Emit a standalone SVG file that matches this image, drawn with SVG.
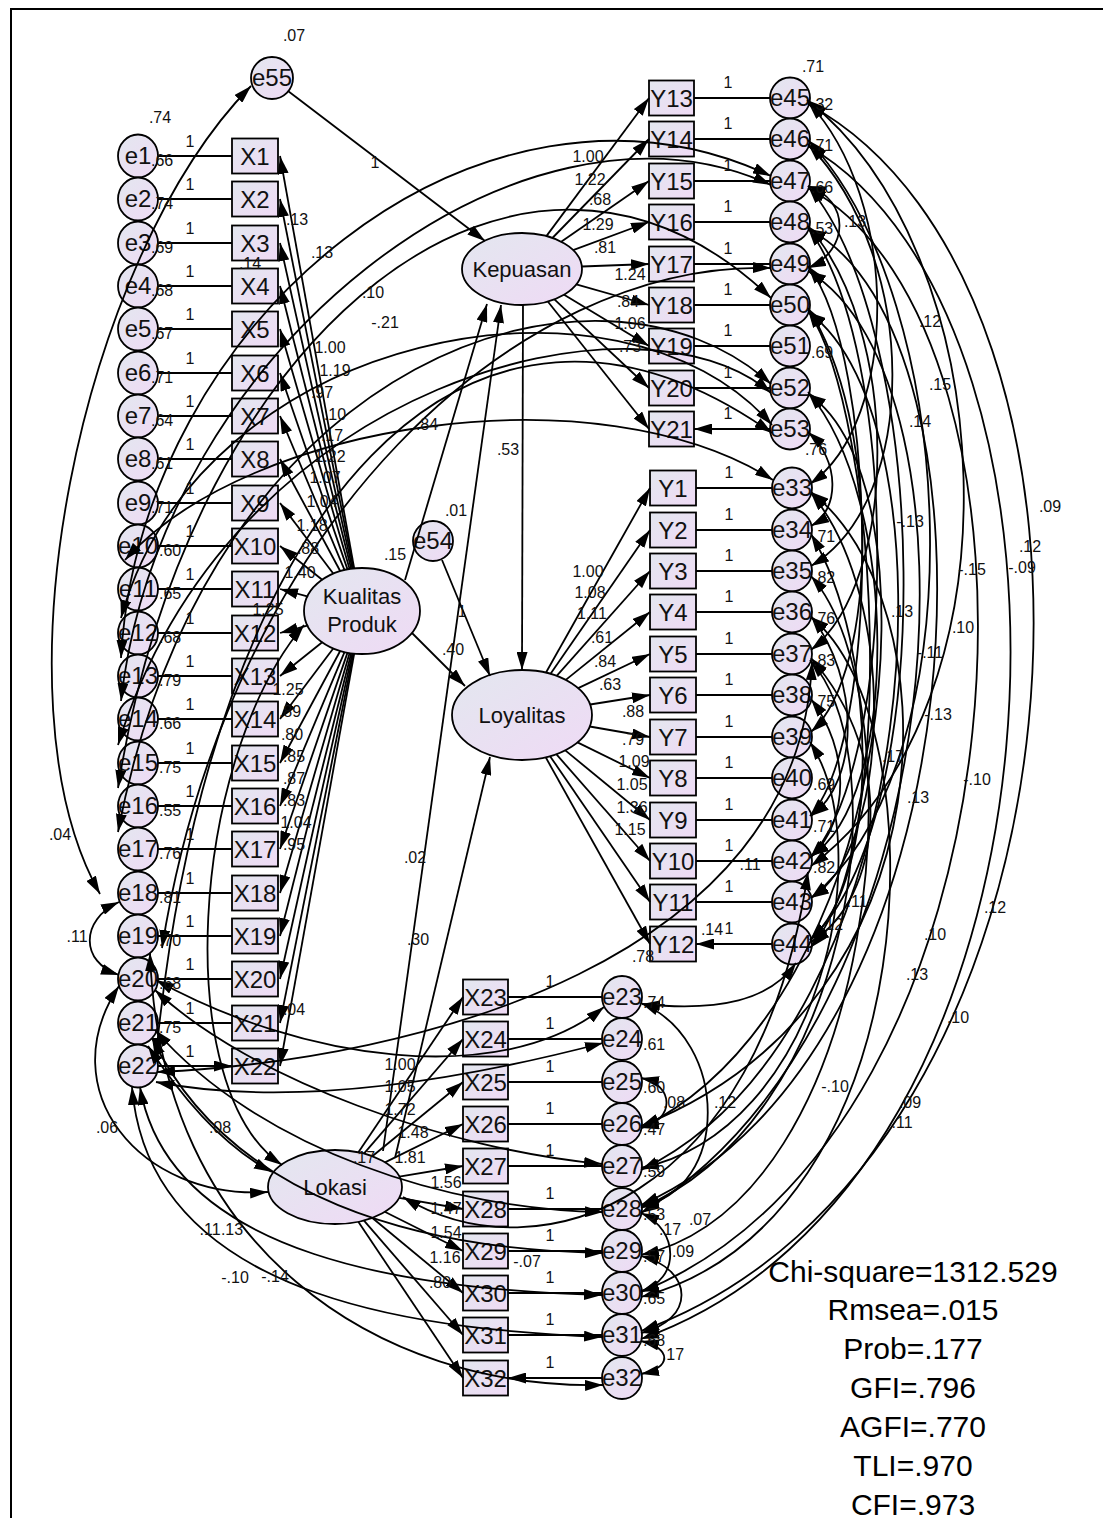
<svg xmlns="http://www.w3.org/2000/svg" width="1103" height="1518" viewBox="0 0 1103 1518">
<defs>
<linearGradient id="g" x1="0" y1="0" x2="1" y2="1"><stop offset="0" stop-color="#e3e7ef"/><stop offset="1" stop-color="#efdaf5"/></linearGradient>
<marker id="a" viewBox="0 0 18 11" refX="18" refY="5.5" markerWidth="18" markerHeight="11" markerUnits="userSpaceOnUse" orient="auto-start-reverse"><path d="M0,0L18,5.5L0,11z" fill="#000"/></marker>
<style>
.n{fill:url(#g);stroke:#000;stroke-width:1.8}
.t{font-family:"Liberation Sans",Arial,sans-serif;font-size:24px;text-anchor:middle;fill:#111}
.lt{font-size:22px}
.c{fill:none;stroke:#000;stroke-width:1.8}
.p{marker-end:url(#a)}
.v{marker-start:url(#a);marker-end:url(#a)}
.l{font-family:"Liberation Sans",Arial,sans-serif;font-size:16px;text-anchor:middle;fill:#111}
.vs{text-anchor:start}
.s{font-family:"Liberation Sans",Arial,sans-serif;font-size:30px;text-anchor:middle;fill:#000}
</style>
</defs>
<rect x="11" y="9" width="1120" height="1530" fill="#fff" stroke="#000" stroke-width="2"/>
<g id="nodes">
<g id="e55"><ellipse class="n" cx="272" cy="78" rx="21" ry="21"/><text class="t" x="272" y="86">e55</text></g>
<g id="e54"><ellipse class="n" cx="433" cy="541" rx="20" ry="20"/><text class="t" x="433" y="549">e54</text></g>
<g id="Kepuasan"><ellipse class="n" cx="522" cy="269" rx="60" ry="36"/><text class="t lt" x="522" y="277">Kepuasan</text></g>
<g id="Loyalitas"><ellipse class="n" cx="522" cy="715" rx="70" ry="45"/><text class="t lt" x="522" y="723">Loyalitas</text></g>
<g id="KualitasProduk"><ellipse class="n" cx="362" cy="611" rx="58" ry="43"/><text class="t lt" x="362" y="604">Kualitas</text><text class="t lt" x="362" y="632">Produk</text></g>
<g id="Lokasi"><ellipse class="n" cx="335" cy="1187" rx="67" ry="37"/><text class="t lt" x="335" y="1195">Lokasi</text></g>
<g id="e1"><ellipse class="n" cx="138" cy="156" rx="20" ry="21.5"/><text class="t" x="138" y="164">e1</text></g>
<g id="e2"><ellipse class="n" cx="138" cy="199" rx="20" ry="21.5"/><text class="t" x="138" y="207">e2</text></g>
<g id="e3"><ellipse class="n" cx="138" cy="243" rx="20" ry="21.5"/><text class="t" x="138" y="251">e3</text></g>
<g id="e4"><ellipse class="n" cx="138" cy="286" rx="20" ry="21.5"/><text class="t" x="138" y="294">e4</text></g>
<g id="e5"><ellipse class="n" cx="138" cy="329" rx="20" ry="21.5"/><text class="t" x="138" y="337">e5</text></g>
<g id="e6"><ellipse class="n" cx="138" cy="373" rx="20" ry="21.5"/><text class="t" x="138" y="381">e6</text></g>
<g id="e7"><ellipse class="n" cx="138" cy="416" rx="20" ry="21.5"/><text class="t" x="138" y="424">e7</text></g>
<g id="e8"><ellipse class="n" cx="138" cy="459" rx="20" ry="21.5"/><text class="t" x="138" y="467">e8</text></g>
<g id="e9"><ellipse class="n" cx="138" cy="503" rx="20" ry="21.5"/><text class="t" x="138" y="511">e9</text></g>
<g id="e10"><ellipse class="n" cx="138" cy="546" rx="20" ry="21.5"/><text class="t" x="138" y="554">e10</text></g>
<g id="e11"><ellipse class="n" cx="138" cy="589" rx="20" ry="21.5"/><text class="t" x="138" y="597">e11</text></g>
<g id="e12"><ellipse class="n" cx="138" cy="633" rx="20" ry="21.5"/><text class="t" x="138" y="641">e12</text></g>
<g id="e13"><ellipse class="n" cx="138" cy="676" rx="20" ry="21.5"/><text class="t" x="138" y="684">e13</text></g>
<g id="e14"><ellipse class="n" cx="138" cy="719" rx="20" ry="21.5"/><text class="t" x="138" y="727">e14</text></g>
<g id="e15"><ellipse class="n" cx="138" cy="763" rx="20" ry="21.5"/><text class="t" x="138" y="771">e15</text></g>
<g id="e16"><ellipse class="n" cx="138" cy="806" rx="20" ry="21.5"/><text class="t" x="138" y="814">e16</text></g>
<g id="e17"><ellipse class="n" cx="138" cy="849" rx="20" ry="21.5"/><text class="t" x="138" y="857">e17</text></g>
<g id="e18"><ellipse class="n" cx="138" cy="893" rx="20" ry="21.5"/><text class="t" x="138" y="901">e18</text></g>
<g id="e19"><ellipse class="n" cx="138" cy="936" rx="20" ry="21.5"/><text class="t" x="138" y="944">e19</text></g>
<g id="e20"><ellipse class="n" cx="138" cy="979" rx="20" ry="21.5"/><text class="t" x="138" y="987">e20</text></g>
<g id="e21"><ellipse class="n" cx="138" cy="1023" rx="20" ry="21.5"/><text class="t" x="138" y="1031">e21</text></g>
<g id="e22"><ellipse class="n" cx="138" cy="1066" rx="20" ry="21.5"/><text class="t" x="138" y="1074">e22</text></g>
<g id="X1"><rect class="n" x="232" y="138.5" width="46" height="35"/><text class="t" x="255" y="164.5">X1</text></g>
<g id="X2"><rect class="n" x="232" y="181.5" width="46" height="35"/><text class="t" x="255" y="207.5">X2</text></g>
<g id="X3"><rect class="n" x="232" y="225.5" width="46" height="35"/><text class="t" x="255" y="251.5">X3</text></g>
<g id="X4"><rect class="n" x="232" y="268.5" width="46" height="35"/><text class="t" x="255" y="294.5">X4</text></g>
<g id="X5"><rect class="n" x="232" y="311.5" width="46" height="35"/><text class="t" x="255" y="337.5">X5</text></g>
<g id="X6"><rect class="n" x="232" y="355.5" width="46" height="35"/><text class="t" x="255" y="381.5">X6</text></g>
<g id="X7"><rect class="n" x="232" y="398.5" width="46" height="35"/><text class="t" x="255" y="424.5">X7</text></g>
<g id="X8"><rect class="n" x="232" y="441.5" width="46" height="35"/><text class="t" x="255" y="467.5">X8</text></g>
<g id="X9"><rect class="n" x="232" y="485.5" width="46" height="35"/><text class="t" x="255" y="511.5">X9</text></g>
<g id="X10"><rect class="n" x="232" y="528.5" width="46" height="35"/><text class="t" x="255" y="554.5">X10</text></g>
<g id="X11"><rect class="n" x="232" y="571.5" width="46" height="35"/><text class="t" x="255" y="597.5">X11</text></g>
<g id="X12"><rect class="n" x="232" y="615.5" width="46" height="35"/><text class="t" x="255" y="641.5">X12</text></g>
<g id="X13"><rect class="n" x="232" y="658.5" width="46" height="35"/><text class="t" x="255" y="684.5">X13</text></g>
<g id="X14"><rect class="n" x="232" y="701.5" width="46" height="35"/><text class="t" x="255" y="727.5">X14</text></g>
<g id="X15"><rect class="n" x="232" y="745.5" width="46" height="35"/><text class="t" x="255" y="771.5">X15</text></g>
<g id="X16"><rect class="n" x="232" y="788.5" width="46" height="35"/><text class="t" x="255" y="814.5">X16</text></g>
<g id="X17"><rect class="n" x="232" y="831.5" width="46" height="35"/><text class="t" x="255" y="857.5">X17</text></g>
<g id="X18"><rect class="n" x="232" y="875.5" width="46" height="35"/><text class="t" x="255" y="901.5">X18</text></g>
<g id="X19"><rect class="n" x="232" y="918.5" width="46" height="35"/><text class="t" x="255" y="944.5">X19</text></g>
<g id="X20"><rect class="n" x="232" y="961.5" width="46" height="35"/><text class="t" x="255" y="987.5">X20</text></g>
<g id="X21"><rect class="n" x="232" y="1005.5" width="46" height="35"/><text class="t" x="255" y="1031.5">X21</text></g>
<g id="X22"><rect class="n" x="232" y="1048.5" width="46" height="35"/><text class="t" x="255" y="1074.5">X22</text></g>
<g id="Y13"><rect class="n" x="649" y="80.5" width="45" height="35"/><text class="t" x="671.5" y="106.5">Y13</text></g>
<g id="Y14"><rect class="n" x="649" y="121.5" width="45" height="35"/><text class="t" x="671.5" y="147.5">Y14</text></g>
<g id="Y15"><rect class="n" x="649" y="163.5" width="45" height="35"/><text class="t" x="671.5" y="189.5">Y15</text></g>
<g id="Y16"><rect class="n" x="649" y="204.5" width="45" height="35"/><text class="t" x="671.5" y="230.5">Y16</text></g>
<g id="Y17"><rect class="n" x="649" y="246.5" width="45" height="35"/><text class="t" x="671.5" y="272.5">Y17</text></g>
<g id="Y18"><rect class="n" x="649" y="287.5" width="45" height="35"/><text class="t" x="671.5" y="313.5">Y18</text></g>
<g id="Y19"><rect class="n" x="649" y="328.5" width="45" height="35"/><text class="t" x="671.5" y="354.5">Y19</text></g>
<g id="Y20"><rect class="n" x="649" y="370.5" width="45" height="35"/><text class="t" x="671.5" y="396.5">Y20</text></g>
<g id="Y21"><rect class="n" x="649" y="411.5" width="45" height="35"/><text class="t" x="671.5" y="437.5">Y21</text></g>
<g id="e45"><ellipse class="n" cx="790" cy="98" rx="20" ry="20.5"/><text class="t" x="790" y="106">e45</text></g>
<g id="e46"><ellipse class="n" cx="790" cy="139" rx="20" ry="20.5"/><text class="t" x="790" y="147">e46</text></g>
<g id="e47"><ellipse class="n" cx="790" cy="181" rx="20" ry="20.5"/><text class="t" x="790" y="189">e47</text></g>
<g id="e48"><ellipse class="n" cx="790" cy="222" rx="20" ry="20.5"/><text class="t" x="790" y="230">e48</text></g>
<g id="e49"><ellipse class="n" cx="790" cy="264" rx="20" ry="20.5"/><text class="t" x="790" y="272">e49</text></g>
<g id="e50"><ellipse class="n" cx="790" cy="305" rx="20" ry="20.5"/><text class="t" x="790" y="313">e50</text></g>
<g id="e51"><ellipse class="n" cx="790" cy="346" rx="20" ry="20.5"/><text class="t" x="790" y="354">e51</text></g>
<g id="e52"><ellipse class="n" cx="790" cy="388" rx="20" ry="20.5"/><text class="t" x="790" y="396">e52</text></g>
<g id="e53"><ellipse class="n" cx="790" cy="429" rx="20" ry="20.5"/><text class="t" x="790" y="437">e53</text></g>
<g id="Y1"><rect class="n" x="650" y="470.5" width="46" height="35"/><text class="t" x="673" y="496.5">Y1</text></g>
<g id="Y2"><rect class="n" x="650" y="512.5" width="46" height="35"/><text class="t" x="673" y="538.5">Y2</text></g>
<g id="Y3"><rect class="n" x="650" y="553.5" width="46" height="35"/><text class="t" x="673" y="579.5">Y3</text></g>
<g id="Y4"><rect class="n" x="650" y="594.5" width="46" height="35"/><text class="t" x="673" y="620.5">Y4</text></g>
<g id="Y5"><rect class="n" x="650" y="636.5" width="46" height="35"/><text class="t" x="673" y="662.5">Y5</text></g>
<g id="Y6"><rect class="n" x="650" y="677.5" width="46" height="35"/><text class="t" x="673" y="703.5">Y6</text></g>
<g id="Y7"><rect class="n" x="650" y="719.5" width="46" height="35"/><text class="t" x="673" y="745.5">Y7</text></g>
<g id="Y8"><rect class="n" x="650" y="760.5" width="46" height="35"/><text class="t" x="673" y="786.5">Y8</text></g>
<g id="Y9"><rect class="n" x="650" y="802.5" width="46" height="35"/><text class="t" x="673" y="828.5">Y9</text></g>
<g id="Y10"><rect class="n" x="650" y="843.5" width="46" height="35"/><text class="t" x="673" y="869.5">Y10</text></g>
<g id="Y11"><rect class="n" x="650" y="884.5" width="46" height="35"/><text class="t" x="673" y="910.5">Y11</text></g>
<g id="Y12"><rect class="n" x="650" y="926.5" width="46" height="35"/><text class="t" x="673" y="952.5">Y12</text></g>
<g id="e33"><ellipse class="n" cx="792" cy="488" rx="20" ry="20.5"/><text class="t" x="792" y="496">e33</text></g>
<g id="e34"><ellipse class="n" cx="792" cy="530" rx="20" ry="20.5"/><text class="t" x="792" y="538">e34</text></g>
<g id="e35"><ellipse class="n" cx="792" cy="571" rx="20" ry="20.5"/><text class="t" x="792" y="579">e35</text></g>
<g id="e36"><ellipse class="n" cx="792" cy="612" rx="20" ry="20.5"/><text class="t" x="792" y="620">e36</text></g>
<g id="e37"><ellipse class="n" cx="792" cy="654" rx="20" ry="20.5"/><text class="t" x="792" y="662">e37</text></g>
<g id="e38"><ellipse class="n" cx="792" cy="695" rx="20" ry="20.5"/><text class="t" x="792" y="703">e38</text></g>
<g id="e39"><ellipse class="n" cx="792" cy="737" rx="20" ry="20.5"/><text class="t" x="792" y="745">e39</text></g>
<g id="e40"><ellipse class="n" cx="792" cy="778" rx="20" ry="20.5"/><text class="t" x="792" y="786">e40</text></g>
<g id="e41"><ellipse class="n" cx="792" cy="820" rx="20" ry="20.5"/><text class="t" x="792" y="828">e41</text></g>
<g id="e42"><ellipse class="n" cx="792" cy="861" rx="20" ry="20.5"/><text class="t" x="792" y="869">e42</text></g>
<g id="e43"><ellipse class="n" cx="792" cy="902" rx="20" ry="20.5"/><text class="t" x="792" y="910">e43</text></g>
<g id="e44"><ellipse class="n" cx="792" cy="944" rx="20" ry="20.5"/><text class="t" x="792" y="952">e44</text></g>
<g id="X23"><rect class="n" x="463" y="979.5" width="45" height="35"/><text class="t" x="485.5" y="1005.5">X23</text></g>
<g id="X24"><rect class="n" x="463" y="1021.5" width="45" height="35"/><text class="t" x="485.5" y="1047.5">X24</text></g>
<g id="X25"><rect class="n" x="463" y="1064.5" width="45" height="35"/><text class="t" x="485.5" y="1090.5">X25</text></g>
<g id="X26"><rect class="n" x="463" y="1106.5" width="45" height="35"/><text class="t" x="485.5" y="1132.5">X26</text></g>
<g id="X27"><rect class="n" x="463" y="1148.5" width="45" height="35"/><text class="t" x="485.5" y="1174.5">X27</text></g>
<g id="X28"><rect class="n" x="463" y="1191.5" width="45" height="35"/><text class="t" x="485.5" y="1217.5">X28</text></g>
<g id="X29"><rect class="n" x="463" y="1233.5" width="45" height="35"/><text class="t" x="485.5" y="1259.5">X29</text></g>
<g id="X30"><rect class="n" x="463" y="1275.5" width="45" height="35"/><text class="t" x="485.5" y="1301.5">X30</text></g>
<g id="X31"><rect class="n" x="463" y="1317.5" width="45" height="35"/><text class="t" x="485.5" y="1343.5">X31</text></g>
<g id="X32"><rect class="n" x="463" y="1360.5" width="45" height="35"/><text class="t" x="485.5" y="1386.5">X32</text></g>
<g id="e23"><ellipse class="n" cx="622" cy="997" rx="20" ry="21"/><text class="t" x="622" y="1005">e23</text></g>
<g id="e24"><ellipse class="n" cx="622" cy="1039" rx="20" ry="21"/><text class="t" x="622" y="1047">e24</text></g>
<g id="e25"><ellipse class="n" cx="622" cy="1082" rx="20" ry="21"/><text class="t" x="622" y="1090">e25</text></g>
<g id="e26"><ellipse class="n" cx="622" cy="1124" rx="20" ry="21"/><text class="t" x="622" y="1132">e26</text></g>
<g id="e27"><ellipse class="n" cx="622" cy="1166" rx="20" ry="21"/><text class="t" x="622" y="1174">e27</text></g>
<g id="e28"><ellipse class="n" cx="622" cy="1209" rx="20" ry="21"/><text class="t" x="622" y="1217">e28</text></g>
<g id="e29"><ellipse class="n" cx="622" cy="1251" rx="20" ry="21"/><text class="t" x="622" y="1259">e29</text></g>
<g id="e30"><ellipse class="n" cx="622" cy="1293" rx="20" ry="21"/><text class="t" x="622" y="1301">e30</text></g>
<g id="e31"><ellipse class="n" cx="622" cy="1335" rx="20" ry="21"/><text class="t" x="622" y="1343">e31</text></g>
<g id="e32"><ellipse class="n" cx="622" cy="1378" rx="20" ry="21"/><text class="t" x="622" y="1386">e32</text></g>
</g>
<g id="connectors" class="c">
<path class="p" d="M158,156H232M158,199H232M158,243H232M158,286H232M158,329H232M158,373H232M158,416H232M158,459H232M158,503H232M158,546H232M158,589H232M158,633H232M158,676H232M158,719H232M158,763H232M158,806H232M158,849H232M158,893H232M158,936H232M158,979H232M158,1023H232M158,1066H232"/>
<path class="p" d="M354.2,568.4L280,156"/><path class="p" d="M353.4,568.5L280,199"/><path class="p" d="M352.4,568.6L280,243"/><path class="p" d="M351.2,568.8L280,286"/><path class="p" d="M349.6,569L280,329"/><path class="p" d="M347.5,569.4L280,373"/><path class="p" d="M344.6,570.1L280,416"/><path class="p" d="M340.3,571.2L280,459"/><path class="p" d="M333.4,573.8L280,503"/><path class="p" d="M322.5,580L280,546"/><path class="p" d="M308.2,596.7L280,589"/><path class="p" d="M308.2,625.3L280,633"/><path class="p" d="M322.5,642L280,676"/><path class="p" d="M333.4,648.2L280,719"/><path class="p" d="M340.3,650.8L280,763"/><path class="p" d="M344.6,651.9L280,806"/><path class="p" d="M347.5,652.6L280,849"/><path class="p" d="M349.6,653L280,893"/><path class="p" d="M351.2,653.2L280,936"/><path class="p" d="M352.4,653.4L280,979"/><path class="p" d="M353.4,653.5L280,1023"/><path class="p" d="M354.2,653.6L280,1066"/>
<path class="p" d="M546.4,236.1L649,98"/><path class="p" d="M552.4,238L649,139"/><path class="p" d="M561.2,241.8L649,181"/><path class="p" d="M573.1,250.2L649,222"/><path class="p" d="M581.9,266.5L649,264"/><path class="p" d="M576.3,284.4L649,305"/><path class="p" d="M564.1,294.7L649,346"/><path class="p" d="M554.4,299.3L649,388"/><path class="p" d="M547.8,301.5L649,429"/>
<path class="p" d="M770,98H694M770,139H694M770,181H694M770,222H694M770,264H694M770,305H694M770,346H694M770,388H694M770,429H694"/>
<path class="p" d="M545.9,672.7L650,488"/><path class="p" d="M550.4,673.9L650,530"/><path class="p" d="M556.7,675.9L650,571"/><path class="p" d="M565.8,679.9L650,612"/><path class="p" d="M578.2,688.1L650,654"/><path class="p" d="M590.1,704.5L650,695"/><path class="p" d="M589.7,726.5L650,737"/><path class="p" d="M577.5,742.4L650,778"/><path class="p" d="M565.3,750.4L650,820"/><path class="p" d="M556.3,754.2L650,861"/><path class="p" d="M550.1,756.2L650,902"/><path class="p" d="M545.7,757.3L650,944"/>
<path class="p" d="M772,488H696M772,530H696M772,571H696M772,612H696M772,654H696M772,695H696M772,737H696M772,778H696M772,820H696M772,861H696M772,902H696M772,944H696"/>
<path class="p" d="M358.4,1152.3L463,997"/><path class="p" d="M363.9,1153.6L463,1039"/><path class="p" d="M372.3,1156.3L463,1082"/><path class="p" d="M385,1162.4L463,1124"/><path class="p" d="M399.3,1176.6L463,1166"/><path class="p" d="M399.1,1197.8L463,1209"/><path class="p" d="M384.7,1211.8L463,1251"/><path class="p" d="M372.1,1217.8L463,1293"/><path class="p" d="M363.8,1220.4L463,1335"/><path class="p" d="M358.3,1221.7L463,1378"/>
<path class="p" d="M602,997H508M602,1039H508M602,1082H508M602,1124H508M602,1166H508M602,1209H508M602,1251H508M602,1293H508M602,1335H508M602,1378H508"/>
<path class="p" d="M288,91L485,241"/>
<path class="p" d="M405,580L487,304"/>
<path class="p" d="M383,1151L501,305"/>
<path class="p" d="M395,1158L490,757"/>
<path class="p" d="M412,633L465,686"/>
<path class="p" d="M523,305L522,670"/>
<path class="p" d="M442,560L490,676"/>
<path class="v" d="M251,86C80,260 -10,700 100,894"/>
<path class="v" d="M119,902C80,920 80,962 119,975"/>
<path class="v" d="M119,986C50,1090 140,1200 268,1192"/>
<path class="v" d="M148,1046C190,1110 230,1150 272,1172"/>
<path class="v" d="M156,1082C300,1110 480,1075 603,1043"/>
<path class="v" d="M155,990C250,1080 450,1150 602,1164"/>
<path class="v" d="M140,1087C170,1260 420,1290 602,1295"/>
<path class="v" d="M132,1087C150,1310 450,1330 602,1337"/>
<path class="v" d="M152,1038C230,1200 420,1250 603,1253"/>
<path class="v" d="M155,1030C260,1150 450,1210 603,1212"/>
<path class="v" d="M156,980C300,1060 500,1090 604,1007"/>
<path class="v" d="M150,953C160,1250 380,1390 603,1385"/>
<path class="v" d="M304,625C190,760 170,1090 282,1165"/>
<path class="v" d="M121,658C140,320 480,40 771,176"/>
<path class="v" d="M121,701C160,350 520,70 771,185"/>
<path class="v" d="M118,788C190,330 520,60 771,298"/>
<path class="v" d="M118,832C210,350 600,230 771,384"/>
<path class="v" d="M121,618C200,330 620,250 772,425"/>
<path class="v" d="M118,745C230,380 640,280 771,393"/>
<path class="v" d="M125,560C250,420 600,370 773,480"/>
<path class="v" d="M157,1072C420,1060 800,960 812,662"/>
<path class="v" d="M771,268C520,260 230,520 162,948"/>
<path class="v" d="M156,1056C210,500 470,220 772,433"/>
<path class="v" d="M808,104C1150,290 1110,1160 641,1331"/>
<path class="v" d="M808,146C1110,320 1090,1180 641,1339"/>
<path class="v" d="M808,188C1070,330 1040,1130 641,1292"/>
<path class="v" d="M808,229C1010,330 990,1050 641,1205"/>
<path class="v" d="M808,271C990,380 960,1020 641,1213"/>
<path class="v" d="M808,312C960,420 930,1030 641,1170"/>
<path class="v" d="M808,394C940,480 900,1000 641,1128"/>
<path class="v" d="M808,140C960,300 980,760 811,898"/>
<path class="v" d="M808,186C930,330 940,820 810,940"/>
<path class="v" d="M808,228C900,350 900,760 810,858"/>
<path class="v" d="M808,266C880,360 880,740 810,816"/>
<path class="v" d="M807,100C1000,250 1030,700 811,866"/>
<path class="v" d="M808,310C880,420 900,850 810,948"/>
<path class="v" d="M808,186C850,200 850,250 808,268"/>
<path class="v" d="M808,102C900,200 900,420 810,484"/>
<path class="v" d="M808,144C920,260 920,500 811,566"/>
<path class="v" d="M808,226C900,330 900,580 811,650"/>
<path class="v" d="M808,308C880,420 880,670 811,732"/>
<path class="v" d="M808,392C900,500 900,800 811,856"/>
<path class="v" d="M808,432C840,460 840,510 811,526"/>
<path class="v" d="M811,493C900,600 890,850 811,898"/>
<path class="v" d="M811,534C880,650 880,880 810,940"/>
<path class="v" d="M811,616C860,680 860,780 811,816"/>
<path class="v" d="M811,699C850,750 850,820 811,857"/>
<path class="v" d="M811,658C900,760 880,900 811,942"/>
<path class="v" d="M796,963C770,1000 720,1012 642,1004"/>
<path class="v" d="M641,1003C730,1040 730,1190 641,1206"/>
<path class="v" d="M810,660C900,760 850,1120 641,1208"/>
<path class="v" d="M810,742C880,850 820,1130 641,1168"/>
<path class="v" d="M811,576C920,700 880,1200 641,1255"/>
<path class="v" d="M811,617C940,720 930,1220 641,1297"/>
<path class="v" d="M811,492C950,600 960,1000 641,1126"/>
<path class="v" d="M641,1078C675,1085 675,1120 641,1128"/>
<path class="v" d="M641,1213C680,1230 680,1280 641,1291"/>
<path class="v" d="M641,1256C695,1270 695,1320 641,1333"/>
<path class="v" d="M641,1341C672,1348 672,1368 641,1374"/>
<path class="v" d="M403,1197C540,1280 760,1200 808,872"/>
</g>
<g id="edge-labels">
<text class="l" x="294" y="41">.07</text>
<text class="l" x="160" y="123">.74</text>
<text class="l" x="395" y="560">.15</text>
<text class="l" x="456" y="516">.01</text>
<text class="l" x="364" y="1163">.17</text>
<text class="l" x="813" y="72">.71</text>
<text class="l" x="816" y="455">.76</text>
<text class="l vs" x="151" y="166">.66</text><text class="l vs" x="151" y="209">.74</text><text class="l vs" x="151" y="253">.69</text><text class="l vs" x="151" y="296">.68</text><text class="l vs" x="151" y="339">.67</text><text class="l vs" x="151" y="383">.71</text><text class="l vs" x="151" y="426">.64</text><text class="l vs" x="151" y="469">.61</text><text class="l vs" x="151" y="513">.71</text><text class="l vs" x="159" y="556">.60</text><text class="l vs" x="159" y="599">.65</text><text class="l vs" x="159" y="643">.68</text><text class="l vs" x="159" y="686">.79</text><text class="l vs" x="159" y="729">.66</text><text class="l vs" x="159" y="773">.75</text><text class="l vs" x="159" y="816">.55</text><text class="l vs" x="159" y="859">.76</text><text class="l vs" x="159" y="903">.81</text><text class="l vs" x="159" y="946">.70</text><text class="l vs" x="159" y="989">.68</text><text class="l vs" x="159" y="1033">.75</text>
<text class="l vs" x="811" y="110">.32</text><text class="l vs" x="811" y="151">.71</text><text class="l vs" x="811" y="193">.66</text><text class="l vs" x="811" y="234">.53</text><text class="l vs" x="811" y="358">.69</text>
<text class="l vs" x="813" y="542">.71</text><text class="l vs" x="813" y="583">.82</text><text class="l vs" x="813" y="624">.76</text><text class="l vs" x="813" y="666">.83</text><text class="l vs" x="813" y="707">.75</text><text class="l vs" x="813" y="790">.69</text><text class="l vs" x="813" y="832">.71</text><text class="l vs" x="813" y="873">.82</text>
<text class="l vs" x="643" y="1008">.74</text><text class="l vs" x="643" y="1050">.61</text><text class="l vs" x="643" y="1093">.60</text><text class="l vs" x="643" y="1135">.47</text><text class="l vs" x="643" y="1177">.59</text><text class="l vs" x="643" y="1220">.53</text><text class="l vs" x="643" y="1262">.57</text><text class="l vs" x="643" y="1304">.65</text><text class="l vs" x="643" y="1346">.68</text>
<text class="l" x="190" y="147">1</text><text class="l" x="190" y="190">1</text><text class="l" x="190" y="234">1</text><text class="l" x="190" y="277">1</text><text class="l" x="190" y="320">1</text><text class="l" x="190" y="364">1</text><text class="l" x="190" y="407">1</text><text class="l" x="190" y="450">1</text><text class="l" x="190" y="494">1</text><text class="l" x="190" y="537">1</text><text class="l" x="190" y="580">1</text><text class="l" x="190" y="624">1</text><text class="l" x="190" y="667">1</text><text class="l" x="190" y="710">1</text><text class="l" x="190" y="754">1</text><text class="l" x="190" y="797">1</text><text class="l" x="190" y="840">1</text><text class="l" x="190" y="884">1</text><text class="l" x="190" y="927">1</text><text class="l" x="190" y="970">1</text><text class="l" x="190" y="1014">1</text><text class="l" x="190" y="1057">1</text>
<text class="l" x="728" y="88">1</text><text class="l" x="728" y="129">1</text><text class="l" x="728" y="171">1</text><text class="l" x="728" y="212">1</text><text class="l" x="728" y="254">1</text><text class="l" x="728" y="295">1</text><text class="l" x="728" y="336">1</text><text class="l" x="728" y="378">1</text><text class="l" x="728" y="419">1</text>
<text class="l" x="729" y="478">1</text><text class="l" x="729" y="520">1</text><text class="l" x="729" y="561">1</text><text class="l" x="729" y="602">1</text><text class="l" x="729" y="644">1</text><text class="l" x="729" y="685">1</text><text class="l" x="729" y="727">1</text><text class="l" x="729" y="768">1</text><text class="l" x="729" y="810">1</text><text class="l" x="729" y="851">1</text><text class="l" x="729" y="892">1</text><text class="l" x="729" y="934">1</text>
<text class="l" x="550" y="987">1</text><text class="l" x="550" y="1029">1</text><text class="l" x="550" y="1072">1</text><text class="l" x="550" y="1114">1</text><text class="l" x="550" y="1156">1</text><text class="l" x="550" y="1199">1</text><text class="l" x="550" y="1241">1</text><text class="l" x="550" y="1283">1</text><text class="l" x="550" y="1325">1</text><text class="l" x="550" y="1368">1</text>
<text class="l" x="375" y="168">1</text>
<text class="l" x="462" y="617">1</text>
<text class="l" x="427" y="430">.84</text>
<text class="l" x="508" y="455">.53</text>
<text class="l" x="453" y="655">.40</text>
<text class="l" x="415" y="863">.02</text>
<text class="l" x="418" y="945">.30</text>
<text class="l" x="297" y="225">.13</text><text class="l" x="322" y="258">.13</text><text class="l" x="250" y="269">.14</text><text class="l" x="373" y="298">.10</text><text class="l" x="385" y="328">-.21</text>
<text class="l" x="330" y="353">1.00</text><text class="l" x="335" y="376">1.19</text><text class="l" x="322" y="398">.97</text><text class="l" x="335" y="420">.10</text><text class="l" x="332" y="441">.17</text><text class="l" x="330" y="462">1.22</text><text class="l" x="325" y="483">1.07</text><text class="l" x="322" y="507">1.04</text><text class="l" x="312" y="531">1.18</text><text class="l" x="308" y="554">.88</text><text class="l" x="300" y="578">1.40</text><text class="l" x="268" y="615">1.25</text><text class="l" x="288" y="695">1.25</text><text class="l" x="290" y="717">.89</text><text class="l" x="292" y="740">.80</text><text class="l" x="294" y="762">.85</text><text class="l" x="294" y="784">.87</text><text class="l" x="294" y="806">.83</text><text class="l" x="296" y="828">1.04</text><text class="l" x="294" y="850">.95</text><text class="l" x="294" y="1015">.04</text>
<text class="l" x="588" y="162">1.00</text><text class="l" x="590" y="185">1.22</text><text class="l" x="600" y="205">.68</text><text class="l" x="598" y="230">1.29</text><text class="l" x="605" y="253">.81</text><text class="l" x="630" y="280">1.24</text><text class="l" x="628" y="307">.84</text><text class="l" x="630" y="329">1.06</text><text class="l" x="630" y="352">.73</text>
<text class="l" x="588" y="577">1.00</text><text class="l" x="590" y="598">1.08</text><text class="l" x="592" y="619">1.11</text><text class="l" x="602" y="643">.61</text><text class="l" x="605" y="667">.84</text><text class="l" x="610" y="690">.63</text><text class="l" x="633" y="717">.88</text><text class="l" x="633" y="745">.79</text><text class="l" x="634" y="767">1.09</text><text class="l" x="632" y="790">1.05</text><text class="l" x="632" y="813">1.36</text><text class="l" x="630" y="835">1.15</text>
<text class="l" x="400" y="1070">1.00</text><text class="l" x="400" y="1092">1.05</text><text class="l" x="400" y="1115">1.72</text><text class="l" x="413" y="1138">1.48</text><text class="l" x="410" y="1163">1.81</text><text class="l" x="446" y="1188">1.56</text><text class="l" x="446" y="1214">1.47</text><text class="l" x="446" y="1238">1.54</text><text class="l" x="445" y="1263">1.16</text><text class="l" x="440" y="1288">.80</text>
<text class="l" x="643" y="962">.78</text><text class="l" x="750" y="870">.11</text><text class="l" x="712" y="935">.14</text><text class="l" x="527" y="1267">-.07</text><text class="l" x="674" y="1108">.08</text><text class="l" x="725" y="1108">.12</text><text class="l" x="670" y="1235">.17</text><text class="l" x="700" y="1225">.07</text><text class="l" x="683" y="1257">.09</text><text class="l" x="673" y="1360">.17</text>
<text class="l" x="835" y="1092">-.10</text><text class="l" x="917" y="980">.13</text><text class="l" x="958" y="1023">.10</text><text class="l" x="910" y="1108">.09</text><text class="l" x="902" y="1128">.11</text>
<text class="l" x="855" y="227">.13</text><text class="l" x="930" y="327">.12</text><text class="l" x="940" y="390">.15</text><text class="l" x="920" y="427">.14</text><text class="l" x="910" y="527">-.13</text><text class="l" x="1050" y="512">.09</text><text class="l" x="1030" y="552">.12</text><text class="l" x="972" y="575">-.15</text><text class="l" x="1022" y="573">-.09</text><text class="l" x="902" y="617">.13</text><text class="l" x="963" y="633">.10</text><text class="l" x="930" y="658">-.11</text><text class="l" x="938" y="720">-.13</text><text class="l" x="893" y="762">.17</text><text class="l" x="977" y="785">-.10</text><text class="l" x="918" y="803">.13</text><text class="l" x="857" y="907">.11</text><text class="l" x="995" y="913">.12</text><text class="l" x="832" y="930">.12</text><text class="l" x="935" y="940">.10</text>
<text class="l" x="60" y="840">.04</text><text class="l" x="77" y="942">.11</text><text class="l" x="107" y="1133">.06</text><text class="l" x="220" y="1133">.08</text><text class="l" x="210" y="1235">.11</text><text class="l" x="232" y="1235">.13</text><text class="l" x="235" y="1283">-.10</text><text class="l" x="275" y="1282">-.14</text>
</g>
<g id="fit-statistics">
<text class="s" x="913" y="1282">Chi-square=1312.529</text>
<text class="s" x="913" y="1320">Rmsea=.015</text>
<text class="s" x="913" y="1359">Prob=.177</text>
<text class="s" x="913" y="1398">GFI=.796</text>
<text class="s" x="913" y="1437">AGFI=.770</text>
<text class="s" x="913" y="1476">TLI=.970</text>
<text class="s" x="913" y="1515">CFI=.973</text>
</g>
</svg>
